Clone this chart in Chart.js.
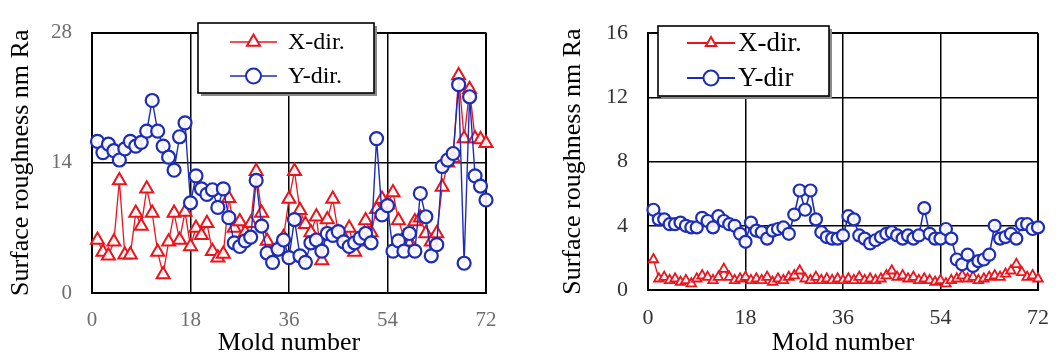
<!DOCTYPE html>
<html>
<head>
<meta charset="utf-8">
<script src="https://cdn.jsdelivr.net/npm/chart.js@4.4.0/dist/chart.umd.min.js"></script>
<style>
  html, body { margin: 0; padding: 0; background: #fff; }
  #wrap { position: relative; width: 1064px; height: 358px; }
  #leftBox { position: absolute; left: 0; top: 0; width: 540px; height: 358px; }
  #rightBox { position: absolute; left: 540px; top: 0; width: 524px; height: 358px; }
</style>
</head>
<body>
<div id="wrap">
  <div id="leftBox"><canvas id="leftChart" width="540" height="358"></canvas></div>
  <div id="rightBox"><canvas id="rightChart" width="524" height="358"></canvas></div>
</div>
<script>
// mold numbers 1..72 (x categories)
var moldNumbers = [];
for (var n = 1; n <= 72; n++) moldNumbers.push(n);

var xTicks = [0, 18, 36, 54, 72];
var leftYTicks = [0, 14, 28];
var rightYTicks = [0, 4, 8, 12, 16];

// left panel: surface roughness (nm Ra)
var leftXDir = [
  5.7, 4.4, 4.0, 5.5, 12.1, 4.1, 4.1, 8.6, 7.2, 11.2,
  8.6, 4.4, 2.0, 5.5, 8.6, 5.7, 8.7, 5.0, 7.0, 6.2,
  7.5, 4.5, 3.8, 4.2, 10.2, 7.0, 7.7, 6.5, 7.5, 13.1,
  8.6, 5.6, 4.5, 4.5, 6.0, 10.1, 13.1, 8.9, 7.4, 6.5,
  8.2, 3.5, 7.9, 10.1, 6.5, 6.0, 7.0, 4.4, 5.5, 7.8,
  6.5, 9.0, 10.1, 9.5, 10.8, 7.8, 6.0, 5.5, 7.7, 8.1,
  6.4, 5.5, 6.4, 11.4, 14.0, 14.5, 23.4, 16.6, 21.9, 16.6,
  16.5, 16.1
];
var leftYDir = [
  16.3, 15.1, 16.0, 15.3, 14.3, 15.5, 16.3, 15.8, 16.2, 17.4,
  20.7, 17.4, 15.8, 14.6, 13.2, 16.8, 18.3, 9.7, 12.6, 11.2,
  10.6, 11.1, 9.2, 11.2, 8.1, 5.4, 5.0, 5.6, 6.0, 12.1,
  7.2, 4.3, 3.3, 4.7, 5.7, 3.8, 7.9, 4.0, 3.3, 5.4,
  5.7, 4.5, 6.4, 6.2, 6.6, 5.5, 5.0, 5.4, 5.9, 6.4,
  5.4, 16.6, 8.4, 9.4, 4.5, 5.6, 4.5, 6.4, 4.5, 10.7,
  8.2, 4.0, 5.2, 13.6, 14.3, 15.0, 22.4, 3.2, 21.1, 12.6,
  11.5, 10.0
];

// right panel
var rightXDir = [
  1.9, 0.7, 0.8, 0.6, 0.7, 0.5, 0.6, 0.4, 0.7, 0.9,
  0.8, 0.6, 0.8, 1.3, 0.8, 0.6, 0.7, 0.8, 0.6, 0.7,
  0.6, 0.8, 0.5, 0.7, 0.6, 0.8, 0.9, 1.2, 0.7, 0.6,
  0.8, 0.6, 0.7, 0.6, 0.7, 0.6, 0.7, 0.6, 0.8, 0.6,
  0.7, 0.6, 0.7, 0.9, 1.2, 0.8, 0.9, 0.7, 0.8, 0.6,
  0.7, 0.6, 0.5, 0.6, 0.4, 0.6, 0.7, 0.9, 0.7, 0.8,
  0.6, 0.7, 0.8, 0.9, 0.8, 1.0, 1.2, 1.6, 1.1, 0.8,
  0.9, 0.7
];
var rightYDir = [
  5.0, 4.4, 4.4, 4.1, 4.1, 4.2, 4.0, 3.9, 3.9, 4.5,
  4.3, 3.9, 4.6, 4.3, 4.1, 4.0, 3.5, 3.0, 4.2, 3.7,
  3.6, 3.2, 3.7, 3.8, 3.9, 3.5, 4.7, 6.2, 5.0, 6.2,
  4.4, 3.6, 3.3, 3.2, 3.2, 3.4, 4.6, 4.4, 3.4, 3.2,
  2.9, 3.1, 3.3, 3.5, 3.6, 3.4, 3.2, 3.4, 3.2, 3.4,
  5.1, 3.5, 3.2, 3.2, 3.8, 3.2, 1.9, 1.6, 2.2, 1.5,
  1.8, 1.9, 2.2, 4.0, 3.2, 3.3, 3.5, 3.2, 4.1, 4.1,
  3.8, 3.9
];

var RED = 'rgb(235, 20, 28)';
var BLUE = 'rgb(28, 44, 185)';
var SERIF = "'Liberation Serif', 'DejaVu Serif', serif";

function toPoints(values) {
  return values.map(function (v, i) { return { x: moldNumbers[i], y: v }; });
}

// legend drawn as a white box inside the plot
var boxLegend = {
  id: 'boxLegend',
  afterDatasetsDraw: function (chart, args, opts) {
    var ctx = chart.ctx;
    ctx.save();
    ctx.fillStyle = '#8a8a8a';
    ctx.fillRect(opts.left + 3, opts.top + 3, opts.width, opts.height);
    ctx.fillStyle = '#fff';
    ctx.fillRect(opts.left, opts.top, opts.width, opts.height);
    ctx.strokeStyle = '#000';
    ctx.lineWidth = 1.6;
    ctx.strokeRect(opts.left, opts.top, opts.width, opts.height);

    chart.data.datasets.forEach(function (ds, i) {
      var y = opts.rows[i];
      ctx.strokeStyle = ds.borderColor;
      ctx.lineWidth = opts.lineWidth;
      ctx.beginPath();
      ctx.moveTo(opts.lineX, y);
      ctx.lineTo(opts.lineX + opts.lineLen, y);
      ctx.stroke();

      ctx.fillStyle = '#fff';
      ctx.strokeStyle = ds.pointBorderColor;
      ctx.lineWidth = 2;
      Chart.helpers.drawPoint(ctx, {
        pointStyle: ds.pointStyle,
        radius: opts.markerRadius[i],
        borderWidth: 2,
        rotation: 0
      }, opts.lineX + opts.lineLen / 2, y);

      ctx.fillStyle = '#000';
      ctx.font = opts.fontSize + 'px ' + SERIF;
      ctx.textBaseline = 'middle';
      ctx.textAlign = 'left';
      ctx.fillText(ds.label, opts.textX, y + 1);
    });
    ctx.restore();
  }
};

function makeChart(id, cfg) {
  var ctx = document.getElementById(id).getContext('2d');
  var edge = function (max) {
    return function (c) {
      var v = c.tick ? c.tick.value : null;
      return (v === 0 || v === max) ? 2 : 1.5;
    };
  };
  return new Chart(ctx, {
    type: 'line',
    data: {
      datasets: [{
        label: cfg.labels[0],
        data: toPoints(cfg.xDir),
        borderColor: RED,
        borderWidth: cfg.lineWidths[0],
        pointStyle: 'triangle',
        pointRadius: cfg.pointRadius[0],
        pointBorderWidth: cfg.pointBorder[0],
        pointBorderColor: RED,
        pointBackgroundColor: 'rgba(255,255,255,0.9)',
        tension: 0,
        clip: false,
        order: 1
      }, {
        label: cfg.labels[1],
        data: toPoints(cfg.yDir),
        borderColor: BLUE,
        borderWidth: cfg.lineWidths[1],
        pointStyle: 'circle',
        pointRadius: cfg.pointRadius[1],
        pointBorderWidth: cfg.pointBorder[1],
        pointBorderColor: BLUE,
        pointBackgroundColor: 'rgba(255,255,255,0.9)',
        tension: 0,
        clip: false,
        order: 0
      }]
    },
    options: {
      responsive: false,
      animation: false,
      layout: { padding: { top: 16, right: cfg.padRight, left: 0, bottom: 0 } },
      plugins: {
        legend: { display: false },
        tooltip: { enabled: false },
        boxLegend: cfg.legend
      },
      scales: {
        x: {
          type: 'linear',
          min: 0,
          max: 72,
          afterBuildTicks: function (s) { s.ticks = xTicks.map(function (v) { return { value: v }; }); },
          ticks: {
            color: cfg.tickColor,
            font: { family: SERIF, size: cfg.tickSize },
            padding: 15,
            maxRotation: 0
          },
          grid: { color: '#000', lineWidth: edge(72), drawTicks: false },
          border: { color: '#000', width: 2 },
          title: {
            display: true,
            text: 'Mold number',
            color: '#000',
            font: { family: SERIF, size: 26, lineHeight: 1 },
            padding: { top: 0, bottom: 2 }
          },
          afterFit: function (s) { s.height = cfg.xHeight; }
        },
        y: {
          type: 'linear',
          min: 0,
          max: cfg.yMax,
          afterBuildTicks: function (s) { s.ticks = cfg.yTicks.map(function (v) { return { value: v }; }); },
          ticks: {
            color: cfg.tickColor,
            font: { family: SERIF, size: cfg.tickSize },
            padding: 20
          },
          grid: { color: '#000', lineWidth: edge(cfg.yMax), drawTicks: false },
          border: { color: '#000', width: 2 },
          title: {
            display: true,
            text: 'Surface roughness nm Ra',
            color: '#000',
            font: { family: SERIF, size: 26, lineHeight: 1 },
            padding: { top: cfg.yTitleGap, bottom: 0 }
          },
          afterFit: function (s) { s.width = cfg.yWidth; }
        }
      }
    },
    plugins: [boxLegend]
  });
}

document.addEventListener('DOMContentLoaded', function () {
  makeChart('leftChart', {
    labels: ['X-dir.', 'Y-dir.'],
    xDir: leftXDir,
    yDir: leftYDir,
    yMax: 28,
    yTicks: leftYTicks,
    lineWidths: [1.3, 1.4],
    pointRadius: [7.5, 6.5],
    pointBorder: [2, 2.2],
    tickColor: '#6e6e6e',
    tickSize: 21,
    padRight: 54,
    xHeight: 65,
    yWidth: 92,
    yTitleGap: 8,
    legend: {
      left: 198, top: 23, width: 176, height: 70,
      rows: [42, 76], lineX: 230, lineLen: 47, textX: 288,
      markerRadius: [7.5, 7.5], fontSize: 24, lineWidth: 1.6
    }
  });

  makeChart('rightChart', {
    labels: ['X-dir.', 'Y-dir'],
    xDir: rightXDir,
    yDir: rightYDir,
    yMax: 16,
    yTicks: rightYTicks,
    lineWidths: [1.3, 1.6],
    pointRadius: [5.5, 6],
    pointBorder: [1.8, 2.2],
    tickColor: '#333',
    tickSize: 22,
    padRight: 13,
    xHeight: 68,
    yWidth: 108,
    yTitleGap: 20,
    legend: {
      left: 118, top: 26, width: 171, height: 70,
      rows: [43, 78], lineX: 147, lineLen: 48, textX: 198,
      markerRadius: [6, 7.5], fontSize: 27, lineWidth: 2
    }
  });
});
</script>
</body>
</html>
